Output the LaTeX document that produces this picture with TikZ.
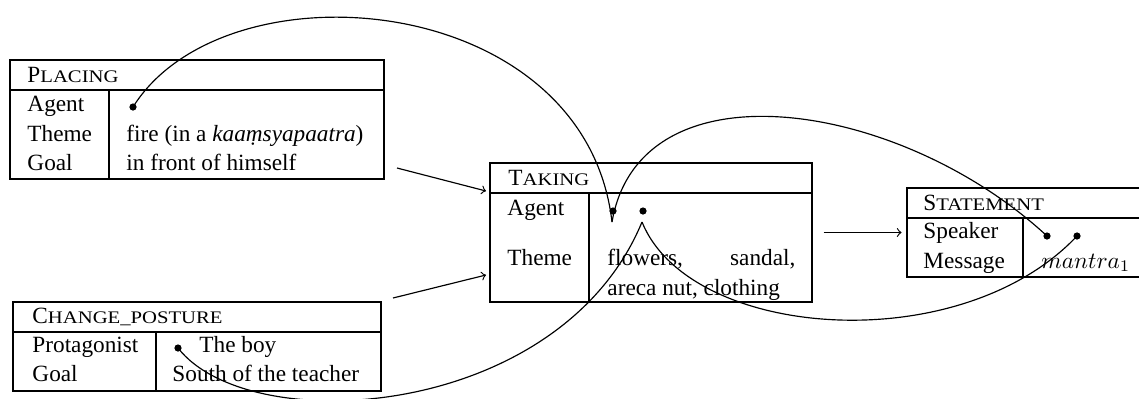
\documentclass[tikz,border=0pt]{standalone}
\usepackage{fontspec}
\setmainfont{Liberation Serif}
\usepackage{graphicx}
\usetikzlibrary{fit}
\newcommand{\hsc}[2]{#1\scalebox{1.17}[1]{\fontsize{7.6}{9}\selectfont #2}}
\begin{document}
\begin{tikzpicture}[x=0.43pt, y=-0.43pt,
  frame/.style={draw, line width=0.5pt, inner sep=0pt},
  rule/.style={line width=0.5pt},
  txt/.style={anchor=base west, inner sep=0pt},
  dotnode/.style={circle, fill, inner sep=0pt, minimum size=3.1pt},
  link/.style={line width=0.5pt},
  flow/.style={->, line width=0.5pt}]
\useasboundingbox (0,0) rectangle (1139,398);

% PLACING
\node[frame, fit={(10,60) (384,179)}] (placing) {};
\draw[rule] (10,90) -- (384,90) (109,90) -- (109,179);
\node[txt] (plh) at (27,82) {\hsc{P}{LACING}};
\node[txt] (pl1) at (27,111) {Agent};
\node[txt] (pl2) at (27,141) {Theme};
\node[txt] (pl3) at (27,170) {Goal};
\node[txt] (pv2) at (126,141) {fire (in a \textit{kaaṃsyapaatra})};
\node[txt] (pv3) at (126,170) {in front of himself};
\node[dotnode] (pd) at (133,107) {};

% TAKING
\node[frame, fit={(490,163) (812,302)}] (taking) {};
\draw[rule] (490,193) -- (812,193) (589,193) -- (589,302);
\node[txt] (tkh) at (508,185) {\hsc{T}{AKING}};
\node[txt] (tk1) at (507,215) {Agent};
\node[txt] (tk2) at (507,265) {Theme};
\node[txt] (tv2a) at (607,265) {\makebox[80.8pt][s]{flowers, sandal,}};
\node[txt] (tv2b) at (607,295) {areca nut, clothing};
\node[dotnode] (td1) at (613,211) {};
\node[dotnode] (td2) at (643,211) {};
\coordinate (tv1) at (612,222);
\coordinate (tv2) at (642,222);

% STATEMENT
\node[frame, fit={(907,188) (1150,277)}] (statement) {};
\draw[rule] (907,218) -- (1150,218) (1023,218) -- (1023,277);
\node[txt] (sth) at (923,210) {\hsc{S}{TATEMENT}};
\node[txt] (st1) at (923,238) {Speaker};
\node[txt] (st2) at (923,268) {Message};
\node[txt] (sv2) at (1041,268) {$mantra_1$};
\node[dotnode] (sd1) at (1047,236) {};
\node[dotnode] (sd2) at (1077,236) {};

% CHANGE_POSTURE
\node[frame, fit={(13,302) (381,391)}] (change) {};
\draw[rule] (13,332) -- (381,332) (156,332) -- (156,391);
\node[txt] (chh) at (32,323) {\hsc{C}{HANGE\_POSTURE}};
\node[txt] (ch1) at (32,352) {Protagonist};
\node[txt] (ch2) at (32,381) {Goal};
\node[txt] (cv1) at (199,352) {The boy};
\node[txt] (cv2) at (172,381) {South of the teacher};
\node[dotnode] (cd) at (178,348) {};

% flow arrows
\coordinate (a1s) at (397,168);
\coordinate (a1e) at (486,191);
\coordinate (a2s) at (393,298);
\coordinate (a2e) at (486,275);
\draw[flow] (a1s) -- (a1e);
\draw[flow] (a2s) -- (a2e);
\draw[flow, shorten <=4.7pt, shorten >=2.1pt] (taking.east) -- (statement.west);

% coreference links
\draw[link] (pd.center) .. controls (225,-40) and (585,-10) .. (tv1);
\draw[link] (tv1) .. controls (640,60) and (900,100) .. (sd1.center);
\draw[link] (tv2) .. controls (560,420) and (250,440) .. (cd.center);
\draw[link] (tv2) .. controls (690,340) and (960,360) .. (sd2.center);
\end{tikzpicture}
\end{document}
